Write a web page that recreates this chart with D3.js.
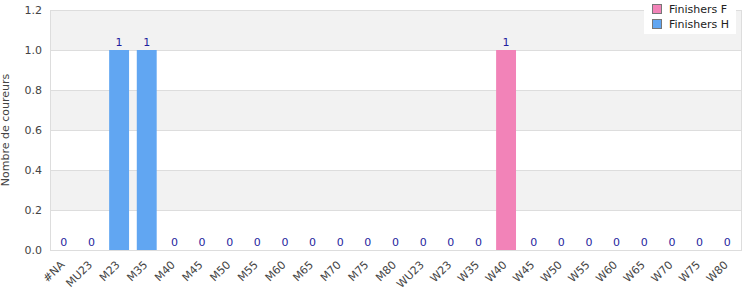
<!DOCTYPE html>
<html>
<head>
<meta charset="utf-8">
<script src="https://cdn.jsdelivr.net/npm/d3@7"></script>
<style>
  body { margin: 0; background: #fff; }
  text { font-family: "DejaVu Sans", sans-serif; }
</style>
</head>
<body>
<div id="chart"></div>
<script>
// categories and series
var categories = ["#NA", "MU23", "M23", "M35", "M40", "M45", "M50", "M55", "M60", "M65", "M70", "M75", "M80",
                  "WU23", "W23", "W35", "W40", "W45", "W50", "W55", "W60", "W65", "W70", "W75", "W80"];
var finishersF = [0, 0, 0, 0, 0, 0, 0, 0, 0, 0, 0, 0, 0, 0, 0, 0, 1, 0, 0, 0, 0, 0, 0, 0, 0];
var finishersH = [0, 0, 1, 1, 0, 0, 0, 0, 0, 0, 0, 0, 0, 0, 0, 0, 0, 0, 0, 0, 0, 0, 0, 0, 0];
var yTicks = [0, 0.2, 0.4, 0.6, 0.8, 1.0, 1.2];
var seriesNames = ["Finishers F", "Finishers H"];

function init() {
    var w = 750;
    var h = 300;
    var margin = {top: 10, right: 9, bottom: 50, left: 50};
    var colors = {"Finishers F": "#f283b8", "Finishers H": "#61a6f2"};

    var svg = d3.select("#chart")
        .append("svg")
        .attr("width", w)
        .attr("height", h);

    var xScale = d3.scaleBand()
        .domain(categories)
        .range([margin.left, w - margin.right])
        .paddingInner(0.28)
        .paddingOuter(0.14);

    var yScale = d3.scaleLinear()
        .domain([0, 1.2])
        .range([h - margin.bottom, margin.top]);

    // alternating bands
    for (var i = 0; i < yTicks.length - 1; i++) {
        svg.append("rect")
            .attr("x", margin.left)
            .attr("y", yScale(yTicks[i + 1]))
            .attr("width", w - margin.right - margin.left)
            .attr("height", yScale(yTicks[i]) - yScale(yTicks[i + 1]))
            .attr("fill", i % 2 == 1 ? "#f2f2f2" : "#fff");
    }

    // grid lines
    svg.selectAll(".grid")
        .data(yTicks)
        .enter()
        .append("line")
        .attr("x1", margin.left)
        .attr("x2", w - margin.right)
        .attr("y1", d => yScale(d) + 0.5)
        .attr("y2", d => yScale(d) + 0.5)
        .attr("stroke", "#dddddd");

    // plot border
    svg.append("rect")
        .attr("x", margin.left + 0.5)
        .attr("y", margin.top + 0.5)
        .attr("width", w - margin.right - margin.left)
        .attr("height", h - margin.bottom - margin.top)
        .attr("fill", "none")
        .attr("stroke", "#dddddd");

    var data = categories.map((c, i) => ({cat: c, F: finishersF[i], H: finishersH[i]}));

    // bars (stacked H then F)
    svg.selectAll(".barH")
        .data(data)
        .enter()
        .append("rect")
        .attr("x", d => xScale(d.cat))
        .attr("y", d => yScale(d.H))
        .attr("width", xScale.bandwidth())
        .attr("height", d => yScale(0) - yScale(d.H))
        .attr("fill", colors["Finishers H"]);

    svg.selectAll(".barF")
        .data(data)
        .enter()
        .append("rect")
        .attr("x", d => xScale(d.cat))
        .attr("y", d => yScale(d.H + d.F))
        .attr("width", xScale.bandwidth())
        .attr("height", d => yScale(d.H) - yScale(d.H + d.F))
        .attr("fill", colors["Finishers F"]);

    // value labels
    svg.selectAll(".val")
        .data(data)
        .enter()
        .append("text")
        .attr("x", d => xScale(d.cat) + xScale.bandwidth() / 2)
        .attr("y", d => yScale(d.H + d.F) - 4)
        .attr("text-anchor", "middle")
        .attr("font-size", "11px")
        .attr("fill", "#1f1f9e")
        .text(d => d.H + d.F);

    // y axis labels
    svg.selectAll(".ylab")
        .data(yTicks)
        .enter()
        .append("text")
        .attr("x", margin.left - 8)
        .attr("y", d => yScale(d) + 4)
        .attr("text-anchor", "end")
        .attr("font-size", "11px")
        .attr("fill", "#444")
        .text(d => d.toFixed(1));

    svg.append("text")
        .attr("transform", "translate(9," + ((margin.top + h - margin.bottom) / 2) + ") rotate(-90)")
        .attr("text-anchor", "middle")
        .attr("font-size", "11px")
        .attr("fill", "#444")
        .text("Nombre de coureurs");

    // x axis labels, rotated 45 degrees
    svg.selectAll(".xlab")
        .data(categories)
        .enter()
        .append("text")
        .attr("transform", d => "translate(" + (xScale(d) + xScale.bandwidth() / 2 - 4) + "," + (h - margin.bottom + 10) + ") rotate(-45)")
        .attr("dy", "0.7em")
        .attr("text-anchor", "end")
        .attr("font-size", "11px")
        .attr("fill", "#444")
        .text(d => d);

    // legend
    var lg = svg.append("g").attr("transform", "translate(644,0)");
    lg.append("rect")
        .attr("width", 92)
        .attr("height", 34)
        .attr("fill", "#fff");
    seriesNames.forEach(function(s, i) {
        lg.append("rect")
            .attr("x", 8.5)
            .attr("y", 4.5 + i * 15)
            .attr("width", 9)
            .attr("height", 9)
            .attr("fill", colors[s])
            .attr("stroke", "#777");
        lg.append("text")
            .attr("x", 25)
            .attr("y", 13 + i * 15)
            .attr("font-size", "11px")
            .attr("fill", "#222")
            .text(s);
    });
}

window.onload = init;
</script>
</body>
</html>
